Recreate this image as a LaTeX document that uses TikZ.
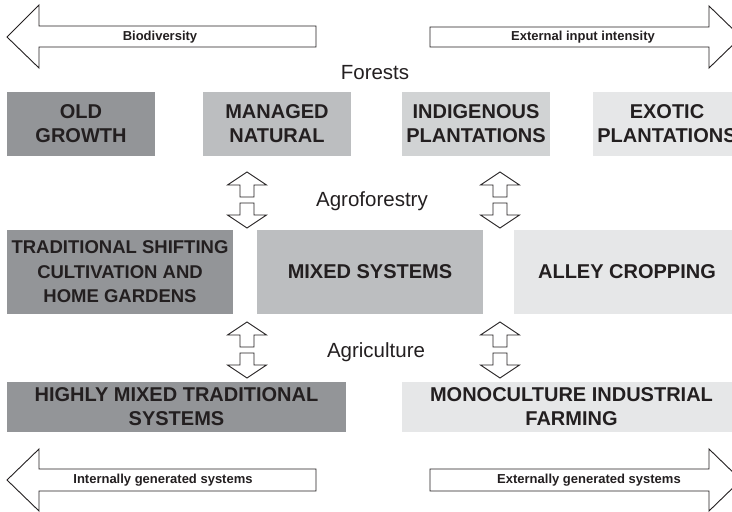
\documentclass[tikz,border=0pt]{standalone}
\usepackage{fontspec}
\setmainfont{Liberation Sans}
\definecolor{gA}{HTML}{939598}
\definecolor{gB}{HTML}{BCBEC0}
\definecolor{gC}{HTML}{D1D3D4}
\definecolor{gD}{HTML}{E6E7E8}
\definecolor{ink}{HTML}{231F20}
\tikzset{
  box/.style={inner sep=0pt, align=center, text=ink, font=\fontsize{20}{24}\selectfont\bfseries},
  bigarrow/.style={draw=ink, fill=white, line width=0.9pt, line join=miter},
  arrlabel/.style={inner sep=0pt, text=ink, font=\fontsize{13}{15}\selectfont\bfseries},
  seclabel/.style={inner sep=0pt, text=ink, font=\fontsize{20.5}{23}\selectfont},
  dbl/.pic={
    \draw[bigarrow] (0,-28) -- (19.5,-15) -- (7,-15) -- (7,-3) -- (-7,-3) -- (-7,-15) -- (-19.5,-15) -- cycle;
    \draw[bigarrow] (0,28) -- (19.5,15) -- (7,15) -- (7,3) -- (-7,3) -- (-7,15) -- (-19.5,15) -- cycle;
  }
}
\begin{document}
\begin{tikzpicture}[x=1pt,y=-1pt]
\useasboundingbox (0,0) rectangle (732,512);
% big arrows
\draw[bigarrow] (7,37) -- (39,5) -- (39,26) -- (316,26) -- (316,47) -- (39,47) -- (39,68) -- cycle;
\draw[bigarrow] (741,37) -- (709,6) -- (709,27) -- (430,27) -- (430,47) -- (709,47) -- (709,68) -- cycle;
\draw[bigarrow] (7,480) -- (39,449) -- (39,469) -- (316,469) -- (316,491) -- (39,491) -- (39,511) -- cycle;
\draw[bigarrow] (741,480) -- (709,449) -- (709,469) -- (430,469) -- (430,491) -- (709,491) -- (709,511) -- cycle;
\node[arrlabel] (bio) at (160,37) {Biodiversity};
\node[arrlabel] (ext) at (583,37) {External input intensity};
\node[arrlabel] (intg) at (163,480) {Internally generated systems};
\node[arrlabel] (extg) at (589,480) {Externally generated systems};
% section labels
\node[seclabel] (forests) at (375,73) {Forests};
\node[seclabel] (agrof) at (372,201) {Agroforestry};
\node[seclabel] (agric) at (376,352) {Agriculture};
% row 1
\node[box, fill=gA, minimum width=148pt, minimum height=64pt] (old) at (81,124) {OLD\\GROWTH};
\node[box, fill=gB, minimum width=148pt, minimum height=64pt] (man) at (277,124) {MANAGED\\NATURAL};
\node[box, fill=gC, minimum width=148pt, minimum height=64pt] (ind) at (476,124) {INDIGENOUS\\PLANTATIONS};
\node[box, fill=gD, minimum width=148pt, minimum height=64pt] (exo) at (667,124) {EXOTIC\\PLANTATIONS};
% row 2
\node[box, fill=gA, minimum width=226pt, minimum height=84pt, font=\fontsize{18.5}{24.5}\selectfont\bfseries] (trad) at (120,272) {TRADITIONAL SHIFTING\\CULTIVATION AND\\HOME GARDENS};
\node[box, fill=gB, minimum width=226pt, minimum height=84pt] (mixed) at (370,272) {MIXED SYSTEMS};
\node[box, fill=gD, minimum width=226pt, minimum height=84pt] (alley) at (627,272) {ALLEY CROPPING};
% row 3
\node[box, fill=gA, minimum width=339pt, minimum height=50pt] (high) at (176.5,407) {HIGHLY MIXED TRADITIONAL\\SYSTEMS};
\node[box, fill=gD, minimum width=339pt, minimum height=50pt] (mono) at (571.5,407) {MONOCULTURE INDUSTRIAL\\FARMING};
% double arrows
\pic at (247,200) {dbl};
\pic at (500,200) {dbl};
\pic at (247,350) {dbl};
\pic at (500,350) {dbl};
\end{tikzpicture}
\end{document}
